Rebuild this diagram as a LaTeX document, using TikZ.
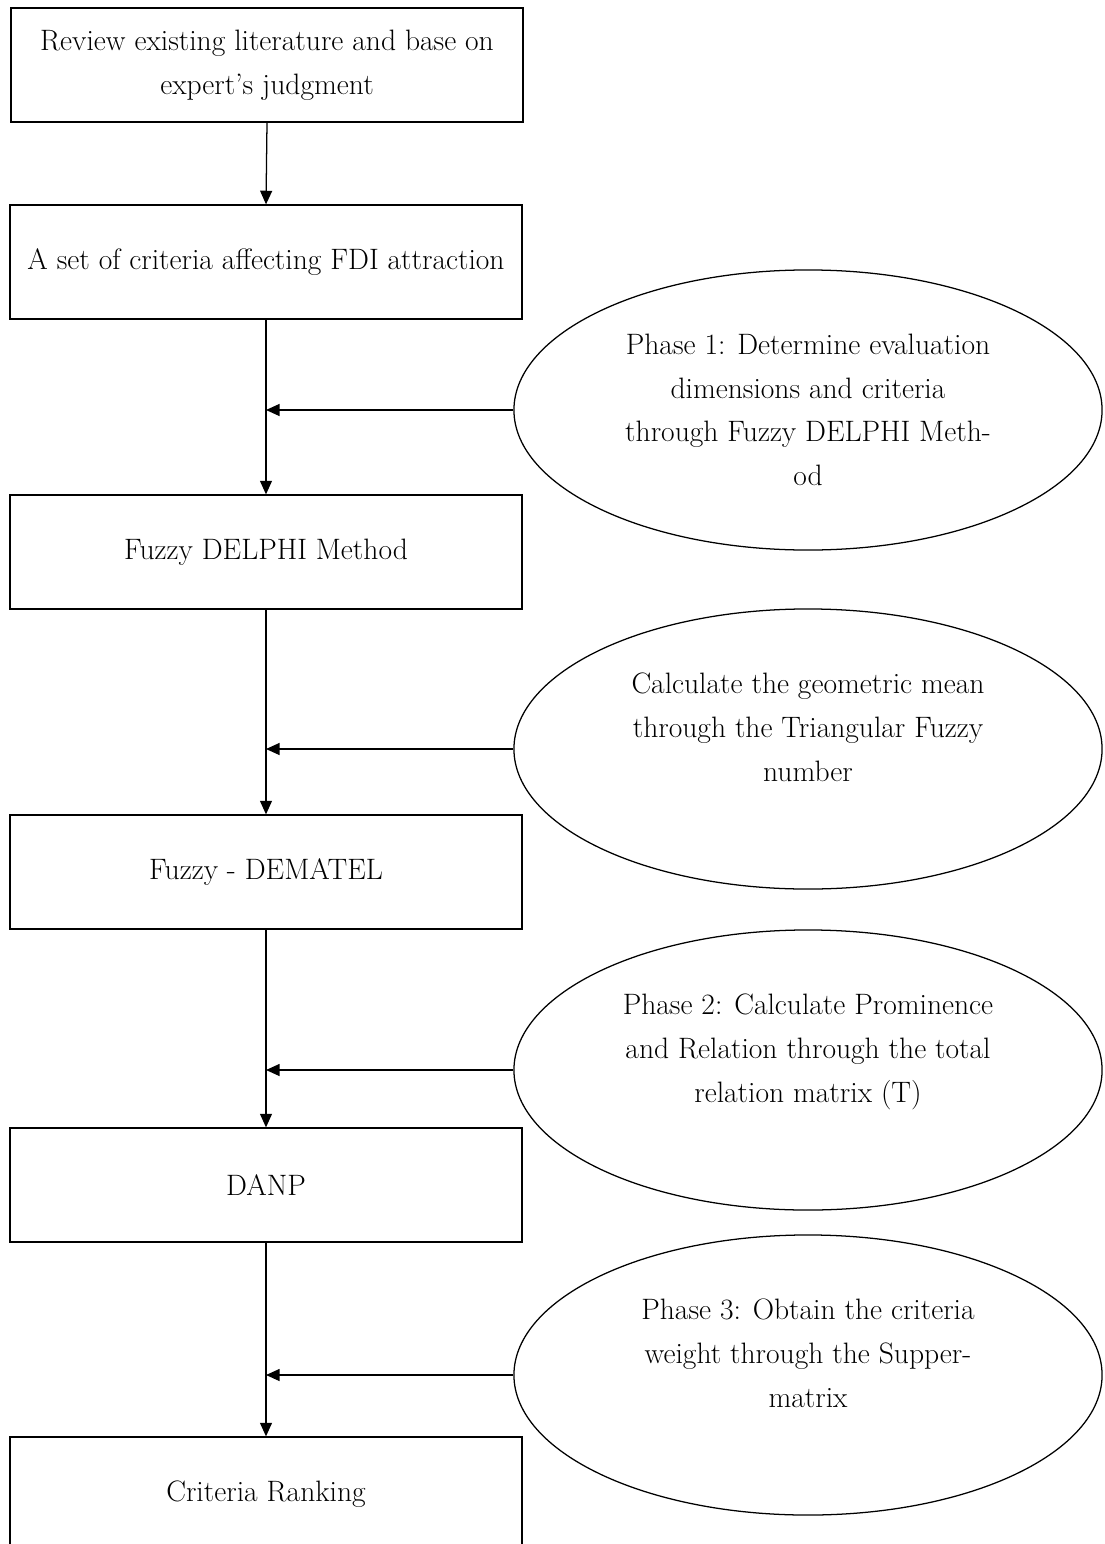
\documentclass[tikz,border=0pt]{standalone}
\usepackage{tikz}
\usetikzlibrary{arrows.meta,shapes.geometric}

\tikzset{
  etape/.style={draw, line width=0.9pt, minimum width=12.8cm, minimum height=2.85cm,
    align=center, inner sep=0pt},
  phase/.style={draw, ellipse, line width=0.9pt, minimum width=14.7cm, minimum height=7cm,
    align=center, inner sep=0pt},
}

\begin{document}
\begin{tikzpicture}[x=0.025cm, y=-0.025cm, >={Triangle[length=3.4mm,width=3mm]},
    font=\fontsize{21}{31}\selectfont]
            % Cadre de l'image
            \useasboundingbox (0,0) rectangle (1104,1544);
            \clip (0,0) rectangle (1104,1544);

            % Dessiner les etapes
            \node[etape] (b1) at (267,65) {Review existing literature and base on\\ expert's judgment};
            \node[etape] (b2) at (266,262) {A set of criteria affecting FDI attraction};
            \node[etape] (b3) at (266,552) {Fuzzy DELPHI Method};
            \node[etape] (b4) at (266,872) {Fuzzy - DEMATEL};
            \node[etape] (b5) at (266,1185) {DANP};
            \node[etape] (b6) at (266,1494) {Criteria Ranking};

            % Ajouter les phases
            \node[phase] (e1) at (808,410) {Phase 1: Determine evaluation\\ dimensions and criteria\\ through Fuzzy DELPHI Meth-\\ od};
            \node[phase] (e2) at (808,749) {Calculate the geometric mean\\ through the Triangular Fuzzy\\ number\\ ~};
            \node[phase] (e3) at (808,1070) {Phase 2: Calculate Prominence\\ and Relation through the total\\ relation matrix (T)\\ ~};
            \node[phase] (e4) at (808,1375) {Phase 3: Obtain the criteria\\ weight through the Supper-\\ matrix\\ ~};

            % Fleches verticales
            \foreach \a/\b in {b1/b2,b2/b3,b3/b4,b4/b5,b5/b6} {
                \draw[line width=0.9pt,->] (\a.south) -- (\b.north);
            }

            % Fleches des phases
            \foreach \e/\b in {e1/b3,e2/b4,e3/b5,e4/b6} {
                \draw[line width=0.9pt,->] (\e.west) -- (\e.west -| \b.north);
            }

        \end{tikzpicture}
\end{document}
